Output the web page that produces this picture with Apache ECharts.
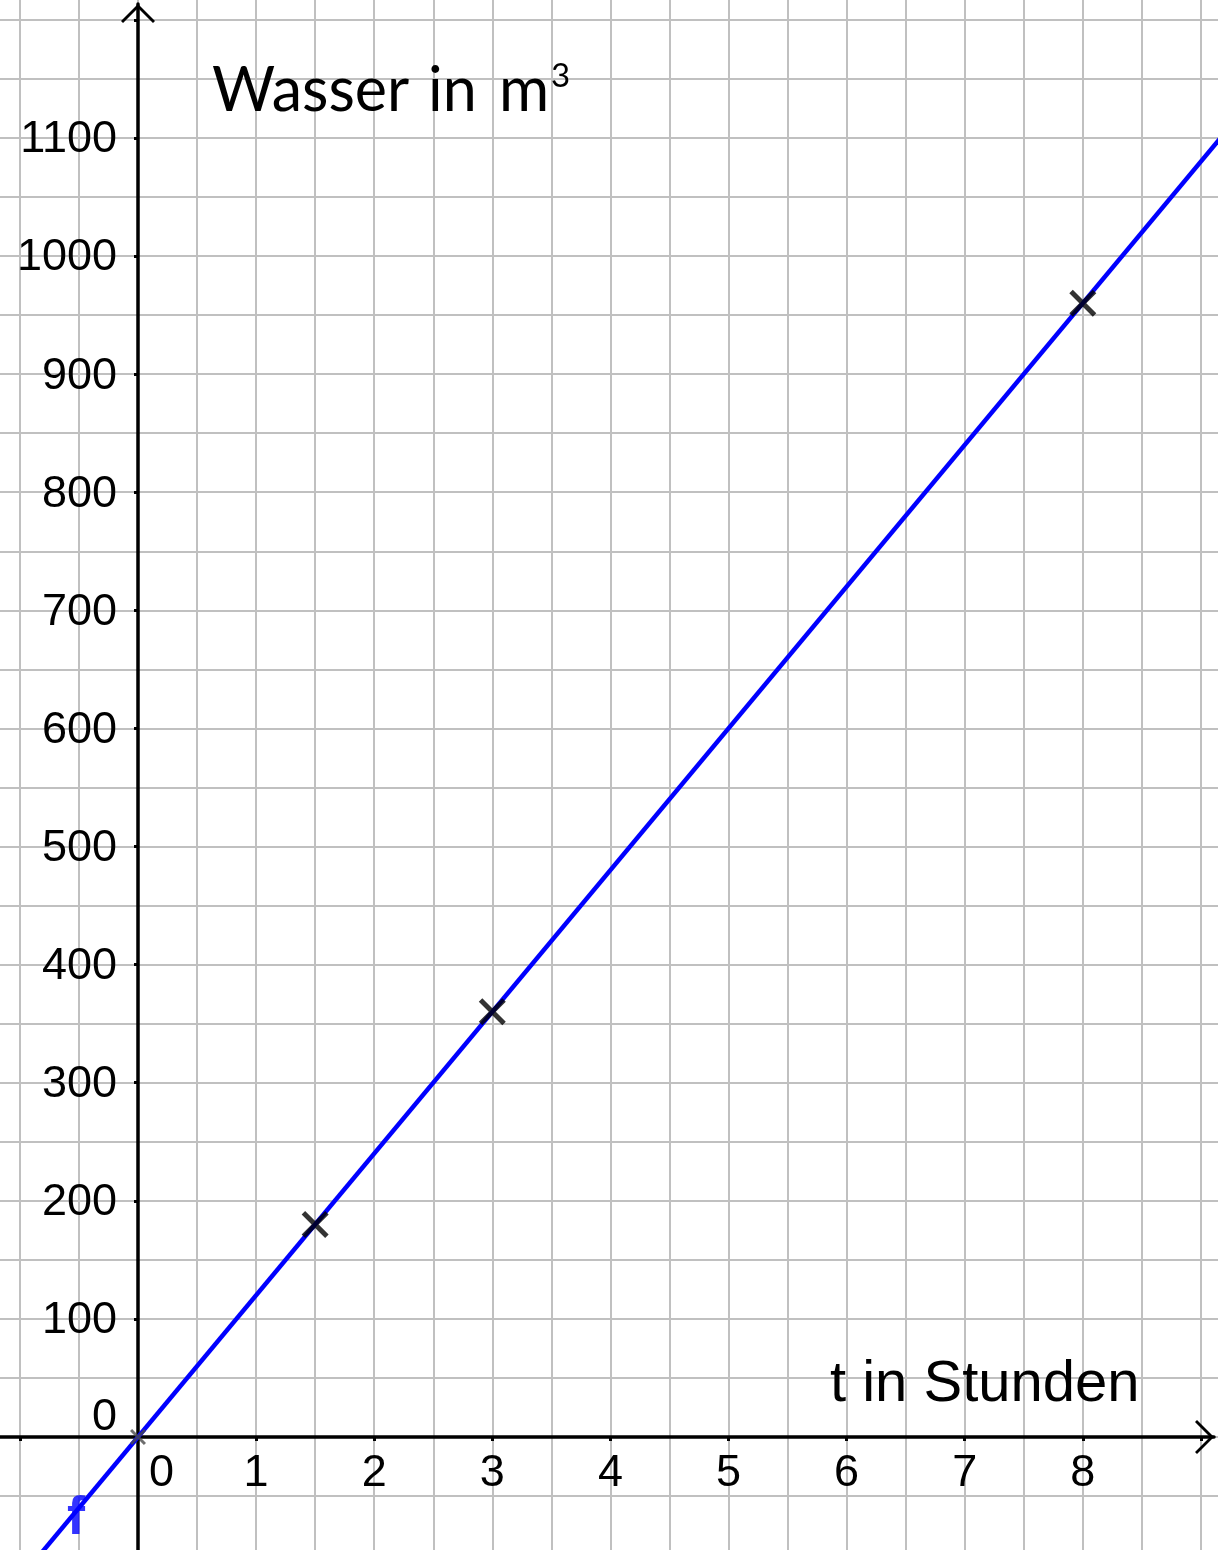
<!DOCTYPE html>
<html>
<head>
<meta charset="utf-8">
<script src="https://cdn.jsdelivr.net/npm/echarts@6/dist/echarts.min.js"></script>
<style>
html,body{margin:0;padding:0;background:#fff;}
#chart{width:1218px;height:1550px;}
</style>
</head>
<body>
<div id="chart"></div>
<script>
// ---------------- data ----------------
const xLabelRange = [0, 8];        // integer t-labels shown
const yLabelRange = [0, 1100];     // labels shown every 100 m³

// graph of f (water volume grows 120 m³ per hour), two points on the line
const lineT = [-2, 10];
const lineW = [-240, 1200];

// marked points (crosses)
const pointT = [1.5, 3, 8];
const pointW = [180, 360, 960];
const originT = [0];
const originW = [0];

// name label of the graph
const fName = 'f';
const fNameT = [-0.5];
const fNameW = [-60];

const xTitle = 't in Stunden';
const yTitleWords = ['Wasser', 'in', 'm'];
const yTitleSup = '3';

// ---------------- layout ----------------
const W = 1218, H = 1550;
const X0 = 138, Y0 = 1437;        // pixel position of the origin
const PX_X = 118.1, PX_Y = 1.181; // pixels per unit
const xPx = v => X0 + v * PX_X;
const yPx = v => Y0 - v * PX_Y;

// grid A: grid lines, ticks, labels (range aligned to the steps, overflowing the canvas)
const A = {xmin: -2, xmax: 10, ymin: -100, ymax: 1300};
// grid B: axis lines, ending at the arrow tips
const B = {left: 0, right: 4, top: 4, bottom: 0};
const Bx = {min: (B.left - X0) / PX_X, max: (W - B.right - X0) / PX_X};
const By = {min: (Y0 - (H - B.bottom)) / PX_Y, max: (Y0 - B.top) / PX_Y};

const LABEL_FONT = 'Liberation Sans';
const LABEL_SIZE = 45;
const GRID_COLOR = '#c0c0c0';
const ARROW = 'path://M17,0 L34,17 L32,19 L17,4 L2,19 L0,17 Z';
const CROSS = 'path://M0,13 L13,0 L50,37 L87,0 L100,13 L63,50 L100,87 L87,100 L50,63 L13,100 L0,87 L37,50 Z';

const zip = (a, b) => a.map((v, i) => [v, b[i]]);
const inRange = (v, r) => v >= r[0] - 1e-9 && v <= r[1] + 1e-9;

const chart = echarts.init(document.getElementById('chart'), null, {renderer: 'canvas'});

const gridLine = {show: true, lineStyle: {color: GRID_COLOR, width: 2}};
const tickStyle = {show: true, length: 4, inside: false, lineStyle: {color: '#000', width: 3}};
const labelBase = {show: true, fontSize: LABEL_SIZE, fontFamily: LABEL_FONT, color: '#000'};

const option = {
  backgroundColor: '#ffffff',
  animation: false,
  grid: [
    {
      left: xPx(A.xmin), right: W - xPx(A.xmax),
      top: yPx(A.ymax), bottom: H - yPx(A.ymin),
      containLabel: false, outerBoundsMode: 'none'
    },
    {
      left: B.left, right: B.right, top: B.top, bottom: B.bottom,
      containLabel: false, outerBoundsMode: 'none'
    }
  ],
  xAxis: [
    {
      gridIndex: 0, type: 'value', min: A.xmin, max: A.xmax, interval: 1,
      position: 'bottom', offset: Y0 - yPx(A.ymin),   // axis moved up to t-axis (W = 0)
      axisLine: {show: false, onZero: false},
      axisTick: tickStyle,
      minorTick: {show: false, splitNumber: 2},
      axisLabel: Object.assign({}, labelBase, {
        margin: 14,
        formatter: v => !inRange(v, xLabelRange) ? '' : (v === 0 ? '{z|0}' : String(v)),
        rich: {z: {padding: [0, 0, 0, 47], fontSize: LABEL_SIZE, fontFamily: LABEL_FONT, color: '#000'}}
      }),
      splitLine: gridLine,
      minorSplitLine: gridLine
    },
    {
      gridIndex: 1, type: 'value', min: Bx.min, max: Bx.max,
      axisLine: {
        show: true, onZero: true,
        symbol: ['none', ARROW], symbolSize: [34, 19], symbolOffset: [0, -9.5],
        lineStyle: {color: '#000', width: 3.5}
      },
      axisTick: {show: false}, axisLabel: {show: false}, splitLine: {show: false}
    }
  ],
  yAxis: [
    {
      gridIndex: 0, type: 'value', min: A.ymin, max: A.ymax, interval: 100,
      position: 'left', offset: xPx(A.xmin) - X0,     // axis moved right to W-axis (t = 0)
      axisLine: {show: false, onZero: false},
      axisTick: tickStyle,
      minorTick: {show: false, splitNumber: 2},
      axisLabel: Object.assign({}, labelBase, {
        margin: 21, padding: [4, 0, 0, 0],
        formatter: v => !inRange(v, yLabelRange) ? '' : (v === 0 ? '{z|0}' : String(v)),
        rich: {z: {padding: [0, 0, 43, 0], fontSize: LABEL_SIZE, fontFamily: LABEL_FONT, color: '#000'}}
      }),
      splitLine: gridLine,
      minorSplitLine: gridLine
    },
    {
      gridIndex: 1, type: 'value', min: By.min, max: By.max,
      axisLine: {
        show: true, onZero: true,
        symbol: ['none', ARROW], symbolSize: [34, 19], symbolOffset: [0, -9.5],
        lineStyle: {color: '#000', width: 3.5}
      },
      axisTick: {show: false}, axisLabel: {show: false}, splitLine: {show: false}
    }
  ],
  series: [
    {
      name: 'f', type: 'line', xAxisIndex: 0, yAxisIndex: 0,
      data: zip(lineT, lineW), showSymbol: false, clip: true,
      lineStyle: {color: '#0000ff', width: 4.5}, z: 3
    },
    {
      name: 'Punkte', type: 'scatter', xAxisIndex: 0, yAxisIndex: 0,
      data: zip(pointT, pointW), symbol: CROSS, symbolSize: 27,
      itemStyle: {color: '#000', borderWidth: 0}, z: 5
    },
    {
      name: 'Ursprung', type: 'scatter', xAxisIndex: 0, yAxisIndex: 0,
      data: zip(originT, originW), symbol: CROSS, symbolSize: 16,
      itemStyle: {color: '#4a4a4a', borderWidth: 0}, z: 5
    },
    {
      name: 'Name', type: 'scatter', xAxisIndex: 0, yAxisIndex: 0,
      data: zip(fNameT, fNameW), symbolSize: 0, z: 6,
      label: {
        show: true, position: 'inside', offset: [-3, 11], formatter: fName,
        color: '#0000ff', fontSize: 54, fontWeight: 'bold', fontFamily: LABEL_FONT
      }
    }
  ],
  graphic: [
    {type: 'text', x: 830, y: 1356, z: 10,
     style: {text: xTitle, font: '58px "Liberation Sans"', fill: '#000', verticalAlign: 'top'}},
    {type: 'text', x: 212, y: 61, z: 10,
     style: {text: yTitleWords[0], font: '61px "Lato"', fill: '#000', verticalAlign: 'top'}},
    {type: 'text', x: 428, y: 61, z: 10,
     style: {text: yTitleWords[1], font: '61px "Lato"', fill: '#000', verticalAlign: 'top'}},
    {type: 'text', x: 499, y: 61, z: 10,
     style: {text: yTitleWords[2], font: '61px "Lato"', fill: '#000', verticalAlign: 'top'}},
    {type: 'text', x: 551, y: 60, z: 10,
     style: {text: yTitleSup, font: '33px "Lato"', fill: '#000', verticalAlign: 'top'}}
  ]
};
chart.setOption(option);
</script>
</body>
</html>
